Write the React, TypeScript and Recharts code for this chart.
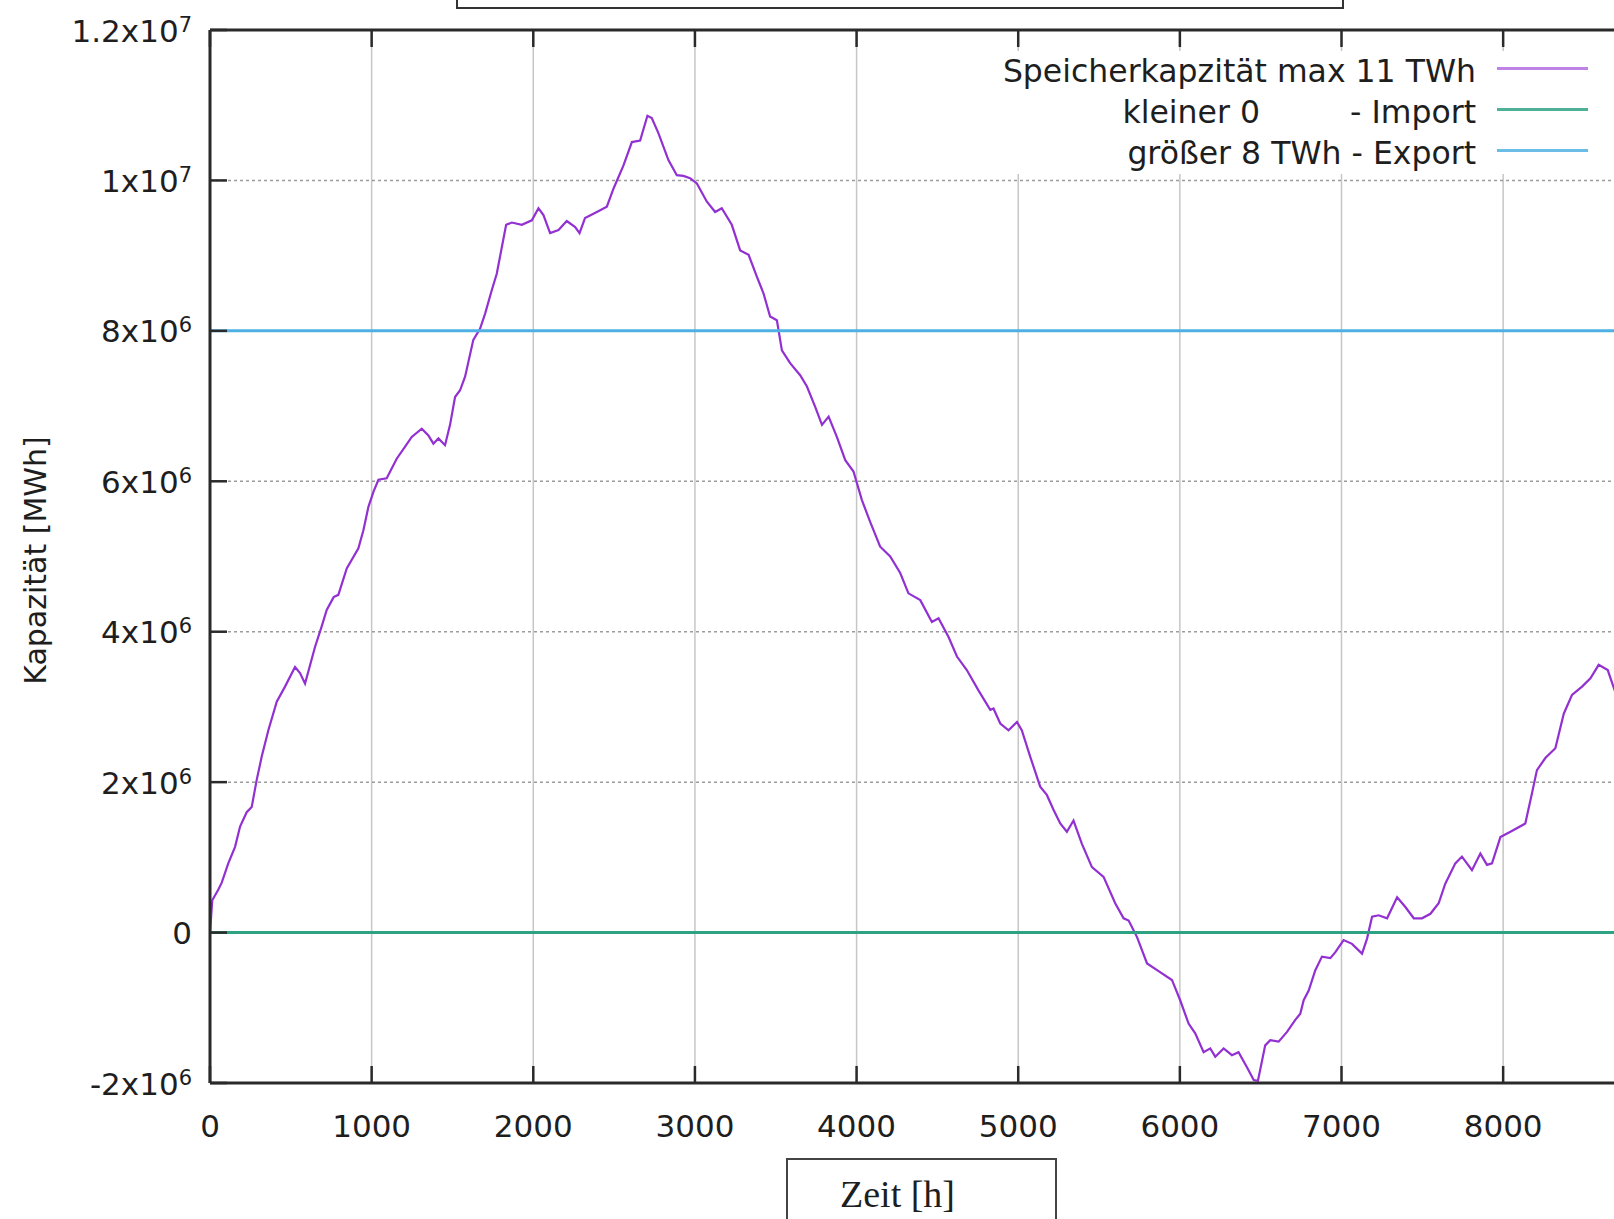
import React from 'react'
import { LineChart, Line, XAxis, YAxis, CartesianGrid, Legend } from 'recharts'

// Stunden des Jahres und Speicherfüllstand in Mio. MWh
const zeitStunden = [
  0, 14, 51, 72, 113, 155, 186, 227, 258, 289, 320, 361, 413, 464, 526, 557, 588, 650, 691, 722,
  765, 794, 846, 918, 949, 980, 1011, 1042, 1093, 1155, 1207, 1248, 1310, 1351, 1382, 1413, 1454, 1485, 1516, 1547,
  1578, 1629, 1671, 1702, 1743, 1774, 1832, 1867, 1929, 1991, 2032, 2063, 2104, 2156, 2207, 2259, 2286, 2320, 2393, 2455,
  2496, 2558, 2610, 2661, 2706, 2733, 2774, 2836, 2888, 2929, 2970, 3012, 3073, 3125, 3166, 3228, 3280, 3332, 3383, 3424,
  3465, 3507, 3538, 3589, 3651, 3693, 3744, 3786, 3827, 3878, 3930, 3981, 4033, 4084, 4146, 4208, 4270, 4321, 4394, 4466,
  4507, 4569, 4621, 4682, 4754, 4827, 4847, 4889, 4940, 4992, 5022, 5074, 5136, 5177, 5219, 5260, 5301, 5342, 5394, 5456,
  5528, 5600, 5652, 5683, 5735, 5797, 5859, 5951, 6002, 6054, 6095, 6147, 6188, 6219, 6271, 6322, 6363, 6415, 6457, 6483,
  6528, 6559, 6611, 6663, 6714, 6745, 6766, 6797, 6838, 6879, 6931, 6962, 7013, 7065, 7127, 7158, 7189, 7230, 7282, 7344,
  7395, 7447, 7498, 7550, 7601, 7642, 7704, 7745, 7807, 7859, 7900, 7931, 7983, 8045, 8137, 8178, 8209, 8261, 8323, 8375,
  8426, 8488, 8540, 8591, 8647, 8693,
]
const speicherMio = [
  0, 0.43, 0.57, 0.66, 0.92, 1.14, 1.41, 1.6, 1.67, 2.03, 2.34, 2.69, 3.07, 3.27, 3.53, 3.45, 3.31, 3.8, 4.07, 4.29,
  4.46, 4.49, 4.84, 5.11, 5.35, 5.66, 5.86, 6.02, 6.04, 6.3, 6.46, 6.59, 6.7, 6.61, 6.5, 6.57, 6.48, 6.75, 7.12, 7.21,
  7.39, 7.88, 8.03, 8.23, 8.54, 8.76, 9.41, 9.44, 9.41, 9.47, 9.63, 9.54, 9.3, 9.34, 9.46, 9.38, 9.3, 9.5, 9.58, 9.65,
  9.89, 10.2, 10.51, 10.53, 10.86, 10.83, 10.63, 10.27, 10.07, 10.06, 10.03, 9.96, 9.72, 9.58, 9.63, 9.41, 9.07, 9.01, 8.72, 8.5,
  8.19, 8.14, 7.74, 7.57, 7.41, 7.26, 6.99, 6.75, 6.86, 6.59, 6.28, 6.13, 5.75, 5.46, 5.13, 5.0, 4.78, 4.51, 4.42, 4.13,
  4.18, 3.93, 3.67, 3.49, 3.22, 2.96, 2.98, 2.78, 2.69, 2.8, 2.69, 2.34, 1.94, 1.83, 1.63, 1.45, 1.34, 1.49, 1.18, 0.87,
  0.74, 0.39, 0.19, 0.16, -0.06, -0.41, -0.5, -0.63, -0.9, -1.21, -1.34, -1.59, -1.54, -1.65, -1.54, -1.63, -1.59, -1.79, -1.96, -1.97,
  -1.5, -1.43, -1.45, -1.32, -1.16, -1.08, -0.9, -0.77, -0.5, -0.32, -0.34, -0.26, -0.1, -0.15, -0.28, -0.08, 0.21, 0.23, 0.19, 0.47,
  0.34, 0.19, 0.19, 0.25, 0.39, 0.65, 0.92, 1.01, 0.83, 1.05, 0.9, 0.92, 1.27, 1.34, 1.45, 1.85, 2.16, 2.32, 2.45, 2.91,
  3.16, 3.27, 3.38, 3.56, 3.49, 3.2,
]

// Grenzlinien
const grenzStunden = [0, 8760]
const importGrenze = [0, 0]
const exportGrenze = [8e6, 8e6]

const xTicks = [0, 1000, 2000, 3000, 4000, 5000, 6000, 7000, 8000]
const yTicks = [-2e6, 0, 2e6, 4e6, 6e6, 8e6, 1e7, 1.2e7]

const serienNamen = ['Speicherkapzität max 11 TWh', 'kleiner 0         - Import', 'größer 8 TWh - Export']
const farben = ['#9230d2', '#2fa283', '#4fb1e3']

const speicherDaten = zeitStunden.map((h, i) => ({ h, v: speicherMio[i] * 1e6 }))
const importDaten = grenzStunden.map((h, i) => ({ h, v: importGrenze[i] }))
const exportDaten = grenzStunden.map((h, i) => ({ h, v: exportGrenze[i] }))

const SANS = '"DejaVu Sans", sans-serif'
const AXIS = '#2a2a2a'
const TEXT = '#1e1e1e'

function sciLabel(v: number) {
  if (v === 0) return { base: '0', exp: '' }
  const e = Math.floor(Math.log10(Math.abs(v)))
  const m = +(v / Math.pow(10, e)).toFixed(2)
  return { base: `${m}x10`, exp: String(e) }
}

const BottomTick = (props: any) => {
  const { x, y, payload } = props
  return (
    <g>
      <line x1={x} y1={y} x2={x} y2={y - 17} stroke={AXIS} strokeWidth={2.5} />
      <text x={x} y={y + 54} textAnchor="middle" fontFamily={SANS} fontSize={31} fill={TEXT}>
        {payload.value}
      </text>
    </g>
  )
}

const TopTick = (props: any) => {
  const { x, y } = props
  return <line x1={x} y1={y} x2={x} y2={y + 17} stroke={AXIS} strokeWidth={2.5} />
}

const LeftTick = (props: any) => {
  const { x, y, payload } = props
  const { base, exp } = sciLabel(payload.value)
  return (
    <g>
      <line x1={x} y1={y} x2={x + 17} y2={y} stroke={AXIS} strokeWidth={2.5} />
      <text x={x - 18} y={y + 11.5} textAnchor="end" fontFamily={SANS} fontSize={31} fill={TEXT}>
        {base}
        {exp && (
          <tspan dy={-10} fontSize={21}>
            {exp}
          </tspan>
        )}
      </text>
    </g>
  )
}

const renderLegend = () => (
  <div style={{ background: '#fff', width: '100%', height: '100%' }}>
    {serienNamen.map((name, i) => (
      <div key={name} style={{ display: 'flex', justifyContent: 'flex-end', alignItems: 'center', height: 41 }}>
        <span style={{ fontFamily: SANS, fontSize: 31.5, lineHeight: '41px', color: TEXT, whiteSpace: 'pre' }}>{name}</span>
        <span
          style={{
            display: 'inline-block',
            width: 91,
            height: 3,
            marginLeft: 21,
            background: farben[i],
            opacity: i === 0 ? 0.6 : 0.85,
            position: 'relative',
            top: -3,
          }}
        />
      </div>
    ))}
  </div>
)

export default function App() {
  return (
    <div style={{ position: 'fixed', left: 0, top: 0, width: 1614, height: 1219, overflow: 'hidden', background: '#fff' }}>
      {/* abgeschnittener Titelrahmen oben */}
      <div
        style={{
          position: 'absolute',
          left: 456,
          top: -40,
          width: 888,
          height: 49,
          boxSizing: 'border-box',
          border: '2px solid #333',
        }}
      />
      <LineChart width={1700} height={1219} data={speicherDaten} margin={{ top: 0, right: 74, bottom: 0, left: 0 }}>
        <CartesianGrid horizontal={false} vertical stroke="#c6c6c6" strokeWidth={1.5} />
        <CartesianGrid horizontal vertical={false} stroke="#9c9c9c" strokeWidth={1.5} strokeDasharray="3 3" />
        <XAxis
          dataKey="h"
          type="number"
          domain={[0, 8760]}
          ticks={xTicks}
          height={136}
          allowDataOverflow
          tickSize={0}
          tickMargin={0}
          axisLine={{ stroke: AXIS, strokeWidth: 3 }}
          tickLine={false}
          tick={BottomTick}
        />
        <XAxis
          xAxisId="top"
          orientation="top"
          dataKey="h"
          type="number"
          domain={[0, 8760]}
          ticks={xTicks}
          height={30}
          allowDataOverflow
          tickSize={0}
          tickMargin={0}
          axisLine={{ stroke: AXIS, strokeWidth: 3 }}
          tickLine={false}
          tick={TopTick}
        />
        <YAxis
          type="number"
          domain={[-2e6, 1.2e7]}
          ticks={yTicks}
          width={210}
          allowDataOverflow
          tickSize={0}
          tickMargin={0}
          axisLine={{ stroke: AXIS, strokeWidth: 3 }}
          tickLine={false}
          tick={LeftTick}
          label={{
            value: 'Kapazität [MWh]',
            angle: -90,
            position: 'insideLeft',
            dx: 30,
            dy: 4,
            style: { fontFamily: SANS, fontSize: 30, fill: TEXT, textAnchor: 'middle' },
          }}
        />
        <Legend
          layout="horizontal"
          verticalAlign="middle"
          align="center"
          wrapperStyle={{ top: 51, left: 985, width: 603, height: 123 }}
          content={renderLegend}
        />
        <Line
          data={speicherDaten}
          dataKey="v"
          name={serienNamen[0]}
          type="linear"
          stroke={farben[0]}
          strokeWidth={2.2}
          dot={false}
          isAnimationActive={false}
        />
        <Line
          data={importDaten}
          dataKey="v"
          name={serienNamen[1]}
          type="linear"
          stroke={farben[1]}
          strokeWidth={3}
          dot={false}
          isAnimationActive={false}
        />
        <Line
          data={exportDaten}
          dataKey="v"
          name={serienNamen[2]}
          type="linear"
          stroke={farben[2]}
          strokeWidth={3}
          dot={false}
          isAnimationActive={false}
        />
      </LineChart>
      {/* Rahmen der x-Achsenbeschriftung */}
      <div
        style={{
          position: 'absolute',
          left: 786,
          top: 1158,
          width: 271,
          height: 100,
          boxSizing: 'border-box',
          border: '2px solid #444',
        }}
      >
        <span
          style={{
            position: 'absolute',
            left: 52,
            top: 15,
            fontFamily: '"Liberation Serif", serif',
            fontSize: 38,
            lineHeight: '38px',
            color: TEXT,
            whiteSpace: 'nowrap',
          }}
        >
          Zeit [h]
        </span>
      </div>
    </div>
  )
}
